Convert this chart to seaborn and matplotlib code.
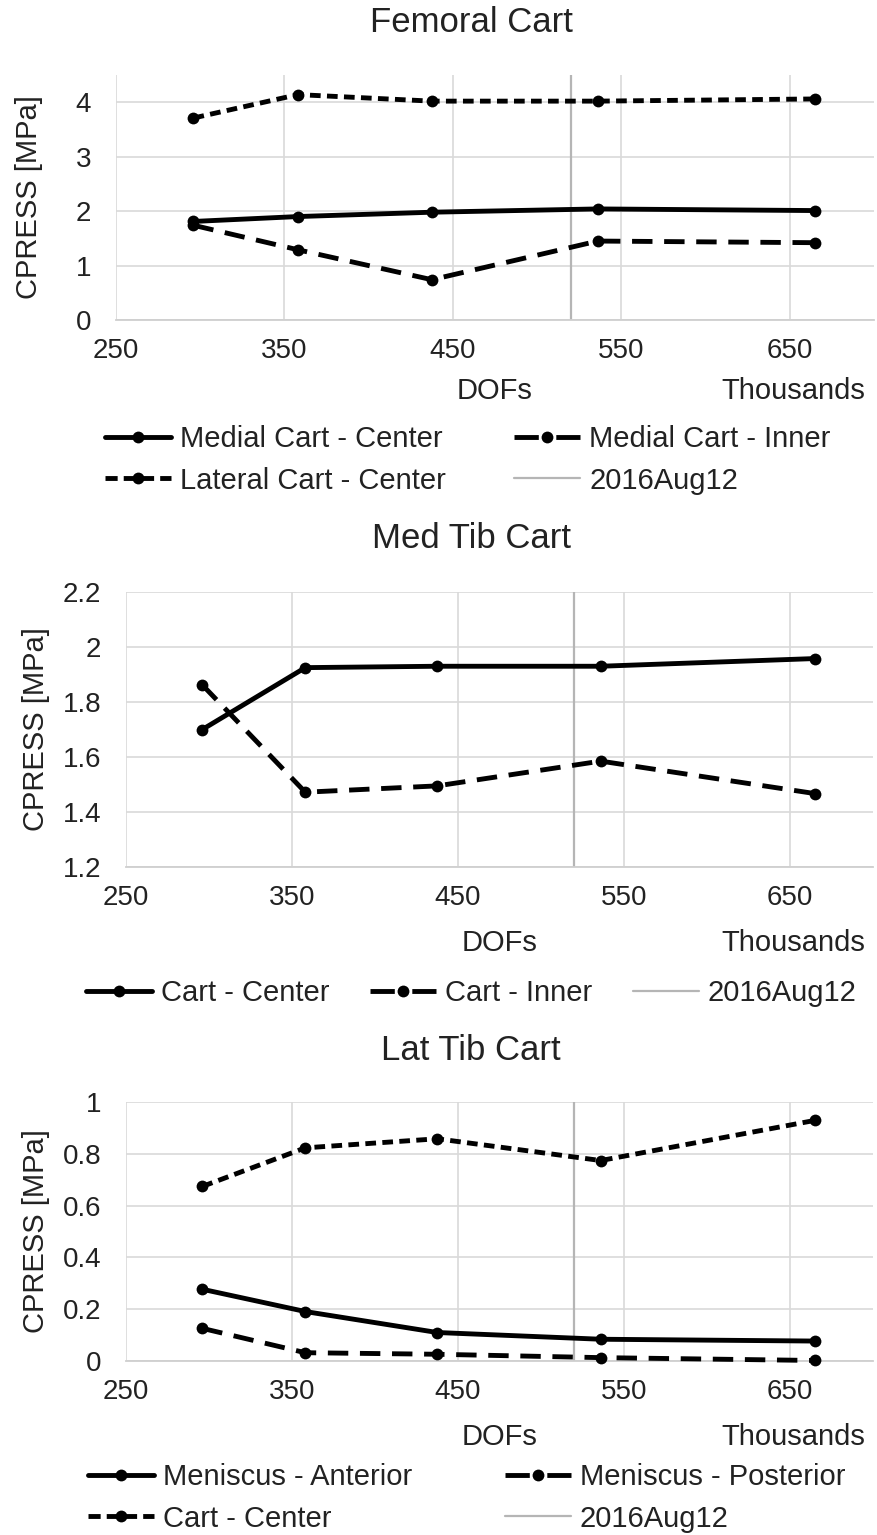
import matplotlib
matplotlib.use("Agg")
import matplotlib.pyplot as plt
from matplotlib.ticker import FuncFormatter
import seaborn as sns

# ---------------- data ----------------
dofs_k = [296, 358, 437.5, 536, 665]          # DOFs (thousands)
aug12_x = 520                                  # 2016Aug12 marker line
x_ticks = [250, 350, 450, 550, 650]

fem_medial_center = [1.81, 1.90, 1.98, 2.04, 2.01]
fem_medial_inner = [1.74, 1.29, 0.74, 1.45, 1.42]
fem_lateral_center = [3.71, 4.14, 4.02, 4.02, 4.06]
fem_yticks = [0, 1, 2, 3, 4]

medtib_center = [1.70, 1.925, 1.93, 1.93, 1.958]
medtib_inner = [1.862, 1.472, 1.495, 1.585, 1.467]
medtib_yticks = [1.2, 1.4, 1.6, 1.8, 2.0, 2.2]

lattib_men_ant = [0.277, 0.191, 0.110, 0.084, 0.077]
lattib_men_post = [0.126, 0.032, 0.026, 0.013, 0.002]
lattib_cart_center = [0.674, 0.823, 0.858, 0.774, 0.929]
lattib_yticks = [0, 0.2, 0.4, 0.6, 0.8, 1.0]

# ---------------- style ----------------
sns.set_theme(style="white")
plt.rcParams['font.family'] = ['Liberation Sans', 'DejaVu Sans']
TXT = '#222222'

W, H = 877, 1535
fig = plt.figure(figsize=(W / 100, H / 100), dpi=100)


def rect(l, t, r, b):
    return [l / W, 1 - b / H, (r - l) / W, (b - t) / H]


SOLID = '-'
LONG = (0, (4.2, 2.4))
SHORT = (0, (2.2, 1.3))
LEG_STYLE = {SOLID: '-', LONG: (0, (5.0, 3.6)), SHORT: (0, (2.5, 1.25))}

panels = [
    dict(title="Femoral Cart", box=(116, 75, 874, 320), ylim=(0, 4.5), yticks=fem_yticks,
         series=[("Medial Cart - Center", fem_medial_center, SOLID),
                 ("Medial Cart - Inner", fem_medial_inner, LONG),
                 ("Lateral Cart - Center", fem_lateral_center, SHORT)],
         legend_order=["Medial Cart - Center", "Lateral Cart - Center",
                       "Medial Cart - Inner", "2016Aug12"],
         ncol=2, colspace=2.36, leg_xy=(105, 460), title_y=23, ylab_x=29, xlab_y=391),
    dict(title="Med Tib Cart", box=(126, 592, 873, 867), ylim=(1.2, 2.2), yticks=medtib_yticks,
         series=[("Cart - Center", medtib_center, SOLID),
                 ("Cart - Inner", medtib_inner, LONG)],
         legend_order=["Cart - Center", "Cart - Inner", "2016Aug12"],
         ncol=3, colspace=1.4, leg_xy=(86, 993), title_y=538, ylab_x=36, xlab_y=943),
    dict(title="Lat Tib Cart", box=(126, 1102, 873, 1361), ylim=(0, 1.0), yticks=lattib_yticks,
         series=[("Meniscus - Anterior", lattib_men_ant, SOLID),
                 ("Meniscus - Posterior", lattib_men_post, LONG),
                 ("Cart - Center", lattib_cart_center, SHORT)],
         legend_order=["Meniscus - Anterior", "Cart - Center",
                       "Meniscus - Posterior", "2016Aug12"],
         ncol=2, colspace=3.2, leg_xy=(88, 1498), title_y=1050, ylab_x=36, xlab_y=1437),
]

for p in panels:
    l, t, r, b = p["box"]
    ax = fig.add_axes(rect(l, t, r, b))
    ax.axvline(aug12_x, color='#b5b5b5', lw=1.6, zorder=1.5, label='2016Aug12')
    styles = {}
    for label, vals, ls in p["series"]:
        sns.lineplot(x=dofs_k, y=vals, ax=ax, color='black', linewidth=3.5, linestyle=ls,
                     marker='o', markersize=8.5, markeredgewidth=0, markeredgecolor='black',
                     label=label, zorder=3, clip_on=False)
        styles[label] = ls
    ax.set_xlim(250, 700)
    ax.set_ylim(*p["ylim"])
    ax.set_xticks(x_ticks)
    ax.set_yticks(p["yticks"])
    ax.yaxis.set_major_formatter(FuncFormatter(lambda v, pos: f"{v:g}"))
    ax.grid(True, color='#d9d9d9', lw=1.2)
    ax.set_axisbelow(True)
    for s in ['left', 'top', 'right']:
        ax.spines[s].set_visible(False)
    ax.spines['bottom'].set_color('#cfcfcf')
    ax.spines['bottom'].set_linewidth(1.3)
    ax.tick_params(axis='both', length=0, labelsize=20, colors=TXT)
    ax.tick_params(axis='x', pad=13)
    ax.tick_params(axis='y', pad=18)

    aw, ah = r - l, b - t
    ax.set_ylabel("CPRESS [MPa]", fontsize=21, color=TXT, va='center')
    ax.yaxis.set_label_coords((p["ylab_x"] - l) / aw, 0.5)
    ax.set_xlabel("DOFs", fontsize=21, color=TXT, va='center')
    ax.xaxis.set_label_coords(0.5, (b - p["xlab_y"]) / ah)
    ax.text((865 - l) / aw, (b - p["xlab_y"]) / ah, "Thousands", transform=ax.transAxes,
            ha='right', va='center', fontsize=21, color=TXT)

    fig.text(471 / W, 1 - p["title_y"] / H, p["title"], ha='center', va='center',
             fontsize=25, color=TXT)

    handles, labels = ax.get_legend_handles_labels()
    hmap = dict(zip(labels, handles))
    order = p["legend_order"]
    lx, ly = p["leg_xy"]
    leg = ax.legend([hmap[k] for k in order], order, loc='center left',
                    bbox_to_anchor=(lx / W, 1 - ly / H), bbox_transform=fig.transFigure,
                    ncol=p["ncol"], frameon=False, fontsize=21, handlelength=2.26,
                    handletextpad=0.3, columnspacing=p["colspace"], labelspacing=0.45,
                    borderpad=0, borderaxespad=0)
    for txt in leg.get_texts():
        txt.set_color(TXT)
    for lbl, line in zip(order, leg.get_lines()):
        if lbl in styles:
            line.set_linestyle(LEG_STYLE[styles[lbl]])

fig.savefig("out.png", dpi=100)
